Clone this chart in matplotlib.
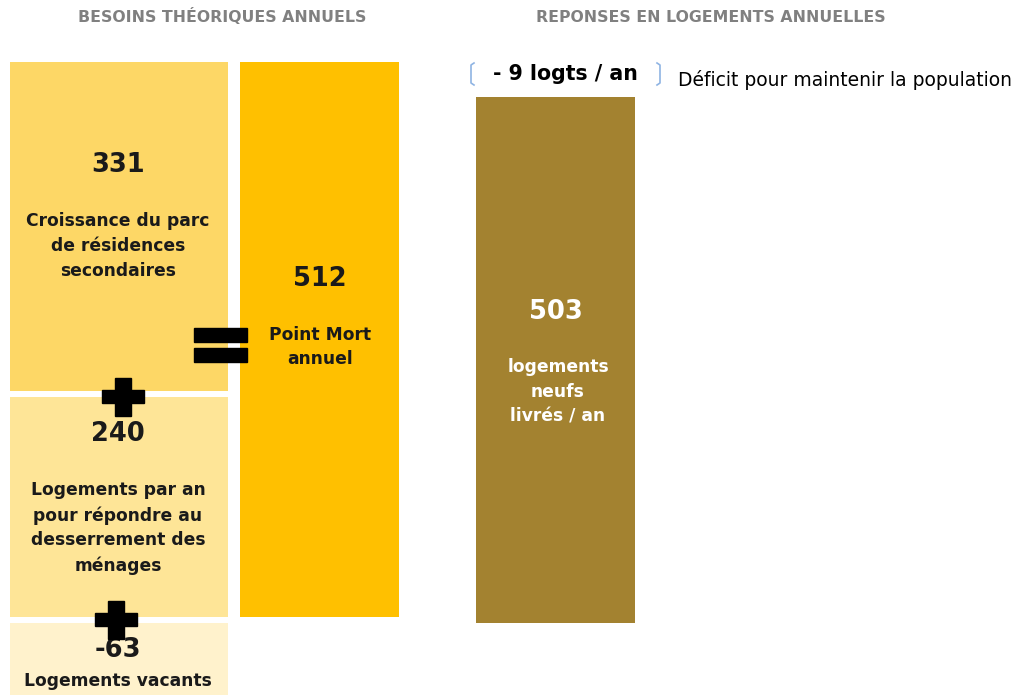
import matplotlib.pyplot as plt
from matplotlib.patches import Rectangle

plt.rcParams['font.family'] = ['DejaVu Sans']

# valeurs du graphique
besoins_valeurs = ['331', '240', '-63']
besoins_labels = ['Croissance du parc\nde résidences\nsecondaires',
                  'Logements par an\npour répondre au\ndesserrement des\nménages',
                  'Logements vacants']
point_mort = '512'
point_mort_label = 'Point Mort\nannuel'
livres = '503'
livres_label = 'logements\nneufs\nlivrés / an'
deficit = '- 9 logts / an'
deficit_label = 'Déficit pour maintenir la population'
titres = ['BESOINS THÉORIQUES ANNUELS', 'REPONSES EN LOGEMENTS ANNUELLES']

# mise en page (pixels)
W, H = 1014, 695
fig = plt.figure(figsize=(W / 100, H / 100), dpi=100)
ax = fig.add_axes([0, 0, 1, 1])
ax.set_xlim(0, W)
ax.set_ylim(H, 0)
ax.axis('off')

# blocs de gauche
left_x, left_w = 10, 218
tops = [62, 397, 623]
heights = [329, 220, 72]
couleurs = ['#FDD766', '#FEE597', '#FFF2CC']
ax.bar([left_x] * 3, heights, width=left_w, bottom=tops, align='edge', color=couleurs)

num_y = [165, 434, 650]
lab_y = [246, 528, 681]
for v, lab, ny, ly in zip(besoins_valeurs, besoins_labels, num_y, lab_y):
    ax.text(118, ny, v, ha='center', va='center', fontsize=18.5, fontweight='bold', color='#1a1a1a')
    ax.text(118, ly, lab, ha='center', va='center', fontsize=12.3, fontweight='bold',
            color='#1a1a1a', linespacing=1.47)

# bloc point mort
ax.bar(240, 555, width=159, bottom=62, align='edge', color='#FFC000')
ax.text(320, 279, point_mort, ha='center', va='center', fontsize=18.5, fontweight='bold', color='#1a1a1a')
ax.text(320, 347, point_mort_label, ha='center', va='center', fontsize=12.3, fontweight='bold',
        color='#1a1a1a', linespacing=1.47)

# bloc logements livrés
ax.bar(476, 526, width=159, bottom=97, align='edge', color='#A38230')
ax.text(556, 312, livres, ha='center', va='center', fontsize=18.5, fontweight='bold', color='white')
ax.text(558, 392, livres_label, ha='center', va='center', fontsize=12.3, fontweight='bold',
        color='white', linespacing=1.47)

# signes plus et égal
for cx, cy in [(123, 397), (116, 620)]:
    ax.add_patch(Rectangle((cx - 21, cy - 7), 42, 13, color='black', zorder=3))
    ax.add_patch(Rectangle((cx - 8, cy - 19), 16, 38, color='black', zorder=3))
for y in [328, 348]:
    ax.add_patch(Rectangle((194, y), 53, 14, color='black', zorder=3))

# titres
ax.text(222, 17, titres[0], ha='center', va='center', fontsize=11.3, fontweight='bold', color='#808080')
ax.text(711, 17, titres[1], ha='center', va='center', fontsize=11.3, fontweight='bold', color='#808080')

# déficit
ax.text(565, 74, deficit, ha='center', va='center', fontsize=14.8, fontweight='bold', color='black')
bc = '#8FB4E3'
ax.plot([474, 471, 471, 474], [63, 65, 83, 85], color=bc, lw=1.2)
ax.plot([657, 660, 660, 657], [63, 65, 83, 85], color=bc, lw=1.2)
ax.text(678, 80, deficit_label, ha='left', va='center', fontsize=13.5, color='black')

fig.savefig('out.png', dpi=100)
